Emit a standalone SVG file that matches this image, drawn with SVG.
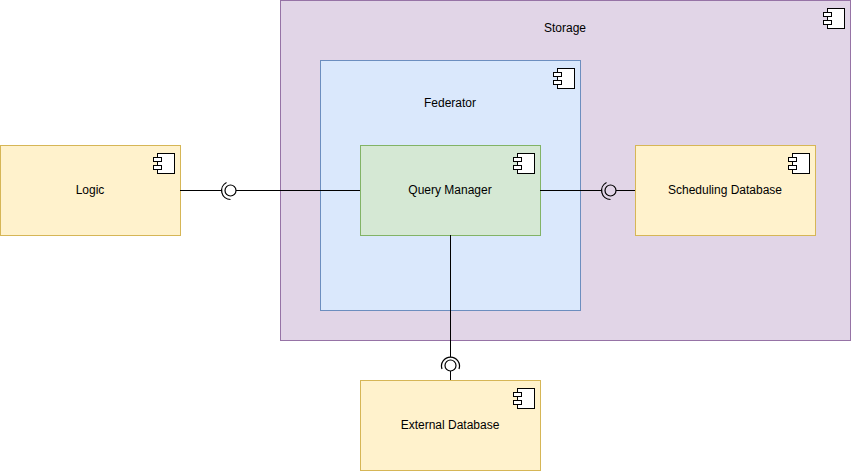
<svg xmlns="http://www.w3.org/2000/svg" width="851" height="471" viewBox="0 0 851 471">
<defs>
<style>
.lbl{font-family:"Liberation Sans",Arial,sans-serif;font-size:12px;fill:#000;text-anchor:middle}
.pur{fill:#e1d5e7;stroke:#9673a6}
.blu{fill:#dae8fc;stroke:#6c8ebf}
.grn{fill:#d5e8d4;stroke:#82b366}
.yel{fill:#fff2cc;stroke:#d6b656}
.ic{fill:#fff;stroke:#000;stroke-width:1}
.ln{fill:none;stroke:#000;stroke-width:1}
.sock{fill:none;stroke:#000;stroke-width:1.2}
</style>
<g id="icon" class="ic">
<rect x="-22.500" y="8.500" width="17" height="20"/>
<rect x="-26.500" y="12.500" width="8" height="4"/>
<rect x="-26.500" y="20.500" width="8" height="4"/>
</g>
</defs>
<rect width="851" height="471" fill="#fff"/>
<g id="storage"><rect class="pur" x="280.500" y="0.500" width="570" height="340"/><use href="#icon" x="850" y="0"/><text class="lbl" x="565" y="32">Storage</text></g>
<g id="federator"><rect class="blu" x="320.500" y="60.500" width="260" height="250"/><use href="#icon" x="580" y="60"/><text class="lbl" x="450" y="107">Federator</text></g>
<g id="query-manager"><rect class="grn" x="360.500" y="145.500" width="180" height="90"/><use href="#icon" x="540" y="145"/><text class="lbl" x="450" y="194">Query Manager</text></g>
<g id="logic"><rect class="yel" x="0.500" y="145.500" width="180" height="90"/><use href="#icon" x="180" y="145"/><text class="lbl" x="90" y="194">Logic</text></g>
<g id="scheduling-database"><rect class="yel" x="635.500" y="145.500" width="180" height="90"/><use href="#icon" x="815" y="145"/><text class="lbl" x="725" y="194">Scheduling Database</text></g>
<g id="external-database"><rect class="yel" x="360.500" y="380.500" width="180" height="90"/><use href="#icon" x="540" y="380"/><text class="lbl" x="450" y="429">External Database</text></g>
<g id="connectors">
<path class="ln" d="M180 190.500H222M236 190.500H360"/>
<circle class="sock" cx="230.500" cy="190.500" r="5.500"/>
<path class="sock" d="M226.500 182.500A9 9 0 0 0 230.500 199.500"/>
<path class="ln" d="M540 190.500H602M616 190.500H635"/>
<circle class="sock" cx="610.500" cy="190.500" r="5.500"/>
<path class="sock" d="M606.500 182.500A9 9 0 0 0 610.500 199.500"/>
<path class="ln" d="M450.500 235V357M450.500 371V380"/>
<circle class="sock" cx="450.500" cy="365.500" r="5.500"/>
<path class="sock" d="M442 369A9 9 0 1 1 459 369"/>
</g>
</svg>
